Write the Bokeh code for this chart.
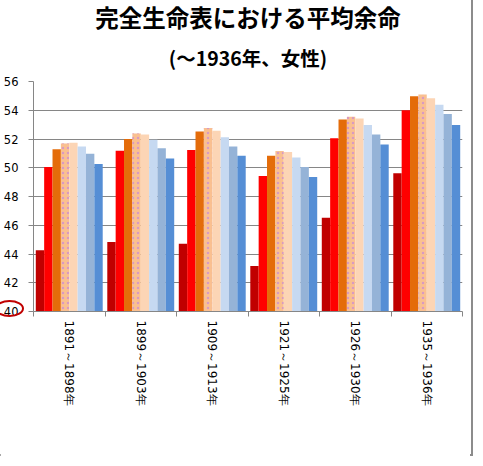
import math
import numpy as np
from bokeh.plotting import figure
from bokeh.models import Range1d, FixedTicker, Legend, LegendItem, Title, InlineStyleSheet
from bokeh.embed import file_html
from bokeh.resources import INLINE

categories = ["1891～1898年", "1899～1903年", "1909～1913年",
              "1921～1925年", "1926～1930年", "1935～1936年"]
ages = ["0歳", "1歳", "2歳", "3歳", "4歳", "5歳", "6歳", "7歳"]
age0 = [44.26, 44.84, 44.71, 43.16, 46.52, 49.61]
age1 = [50.06, 51.18, 51.23, 49.42, 52.06, 54.00]
age2 = [51.29, 52.00, 52.52, 50.84, 53.35, 54.97]
age3 = [51.68, 52.39, 52.77, 51.16, 53.55, 55.10]
age4 = [51.74, 52.32, 52.58, 51.10, 53.42, 54.84]
age5 = [51.48, 51.94, 52.13, 50.71, 52.97, 54.39]
age6 = [50.97, 51.35, 51.48, 50.06, 52.32, 53.74]
age7 = [50.26, 50.65, 50.84, 49.35, 51.61, 52.97]
series = [age0, age1, age2, age3, age4, age5, age6, age7]
y_ticks = [40, 42, 44, 46, 48, 50, 52, 54, 56]
colors = ["#C00000", "#FF0000", "#E46C0A", "#FAC090", "#FCD5B5",
          "#C6D9F1", "#95B3D7", "#558ED5"]

GRAY = "#868686"
JP = "Noto Sans CJK JP"

p = figure(frame_width=429, frame_height=230, x_range=Range1d(0, len(categories)),
           y_range=Range1d(40, 56), output_backend="svg", toolbar_location=None,
           title=None, min_border_left=30, min_border_right=8,
           min_border_top=78, min_border_bottom=0)
p.outline_line_color = None

# outer grey frame of the chart and the red ellipse around the "40" label
css = InlineStyleSheet(css="""
:host { position: relative; overflow: visible; }
:host::before { content: ""; position: absolute; left: -7px; top: -7px;
  width: 476px; height: 459px; border: 2px solid #8c8c8c; pointer-events: none; }
:host::after { content: ""; position: absolute; left: -5px; top: 300px;
  width: 25px; height: 13px; border: 2px solid #C00000; border-radius: 50%;
  pointer-events: none; }
""")
p.stylesheets = [css]

centers = np.arange(len(categories)) + 0.5
bounds = list(range(len(categories) + 1))
bw = 0.117
items = []
for i, (name, vals, col) in enumerate(zip(ages, series, colors)):
    xs = centers + (i - 3.5) * bw
    kw = {}
    if i == 3:
        kw = dict(hatch_pattern="dot", hatch_color="#D99AC0", hatch_scale=5, hatch_weight=1.2)
    r = p.vbar(x=xs, top=vals, bottom=40, width=bw, fill_color=col, line_color=None, **kw)
    items.append(LegendItem(label=name, renderers=[r]))

# axes
p.xgrid.visible = False
p.ygrid.ticker = FixedTicker(ticks=y_ticks)
p.ygrid.grid_line_color = GRAY
p.ygrid.grid_line_width = 1

p.yaxis.axis_label = None
p.yaxis.ticker = FixedTicker(ticks=y_ticks)
p.yaxis.axis_line_color = GRAY
p.yaxis.major_tick_line_color = GRAY
p.yaxis.major_tick_out = 5
p.yaxis.major_tick_in = 0
p.yaxis.minor_tick_line_color = None
p.yaxis.major_label_standoff = 10
p.yaxis.major_label_text_font = "DejaVu Sans"
p.yaxis.major_label_text_font_size = "11.5px"
p.yaxis.major_label_text_color = "#000000"

p.xaxis.axis_label = None
p.xaxis.ticker = FixedTicker(ticks=list(centers), minor_ticks=bounds)
p.xaxis.major_label_overrides = {float(c): cat for c, cat in zip(centers, categories)}
p.xaxis.major_label_orientation = -math.pi / 2
p.xaxis.major_tick_line_color = None
p.xaxis.major_tick_out = 0
p.xaxis.major_tick_in = 0
p.xaxis.minor_tick_line_color = GRAY
p.xaxis.minor_tick_out = 5
p.xaxis.minor_tick_in = 0
p.xaxis.axis_line_color = GRAY
p.xaxis.major_label_standoff = 4
p.xaxis.major_label_text_font = "DejaVu Sans"
p.xaxis.major_label_text_font_size = "12px"
p.xaxis.major_label_text_color = "#000000"

legend = Legend(items=items, orientation="horizontal", location="top_center",
                glyph_width=9, glyph_height=9, label_standoff=2, spacing=10,
                label_text_font=JP, label_text_font_size="12px", label_height=12,
                border_line_color=None, background_fill_alpha=0,
                padding=0, margin=0)
p.add_layout(legend, "below")

sub = Title(text="(～1936年、女性)", align="center", text_font=JP, text_color="#000000",
            text_font_size="19.5px", text_font_style="bold", standoff=20)
main = Title(text="完全生命表における平均余命", align="center", text_font=JP, text_color="#000000",
             text_font_size="23.5px", text_font_style="bold", standoff=-6)
p.add_layout(sub, "above")
p.add_layout(main, "above")

open("out.html", "w").write(file_html(p, INLINE))
